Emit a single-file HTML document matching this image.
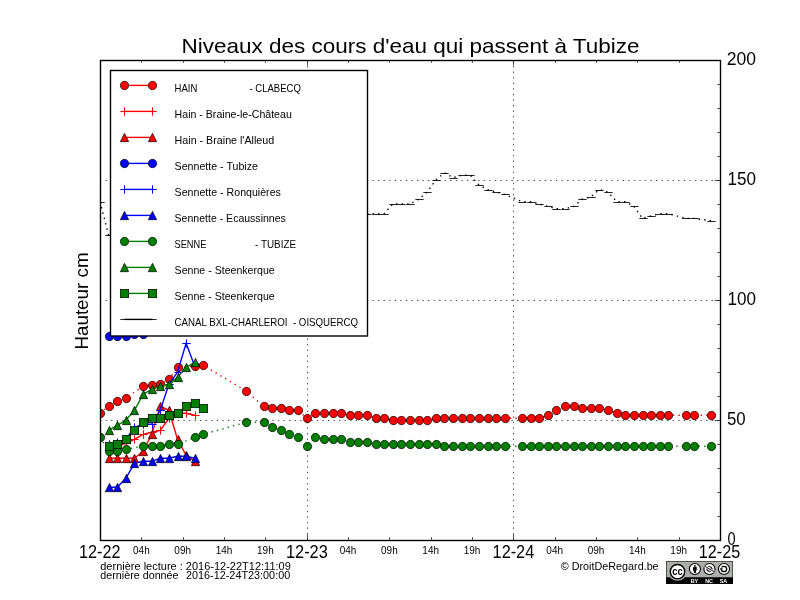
<!DOCTYPE html>
<html><head><meta charset="utf-8"><title>Niveaux des cours d'eau qui passent à Tubize</title>
<style>html,body{margin:0;padding:0;background:#fff;overflow:hidden}svg{display:block;will-change:transform}text{font-family:"Liberation Sans",sans-serif;white-space:pre}</style></head><body>
<svg width="800" height="600" viewBox="0 0 800 600">
<rect width="800" height="600" fill="#fff"/>
<defs><clipPath id="ax"><rect x="100" y="60" width="620" height="480"/></clipPath></defs>
<g clip-path="url(#ax)">
<path d="M100.00 413.30 L108.61 406.30 L117.22 401.30 L125.83 398.30 L143.06 386.30 L151.67 385.30 L160.28 384.30 L168.89 379.30 L177.50 367.30 L194.72 366.30 L203.33 365.30 L246.39 391.30 L263.61 406.30 L272.22 408.30 L280.83 408.30 L289.44 410.30 L298.06 410.30 L306.67 418.30 L315.28 413.30 L323.89 413.30 L332.50 413.30 L341.11 413.30 L349.72 415.30 L358.33 415.30 L366.94 415.30 L375.56 418.30 L384.17 418.30 L392.78 420.30 L401.39 420.30 L410.00 420.30 L418.61 420.30 L427.22 420.30 L435.83 418.30 L444.44 418.30 L453.06 418.30 L461.67 418.30 L470.28 418.30 L478.89 418.30 L487.50 418.30 L496.11 418.30 L504.72 418.30 L521.94 418.30 L530.56 418.30 L539.17 418.30 L547.78 415.30 L556.39 410.30 L565.00 406.30 L573.61 406.30 L582.22 408.30 L590.83 408.30 L599.44 408.30 L608.06 410.30 L616.67 413.30 L625.28 415.30 L633.89 415.30 L642.50 415.30 L651.11 415.30 L659.72 415.30 L668.33 415.30 L685.56 415.30 L694.17 415.30 L711.39 415.30" fill="none" stroke="#ff0000" stroke-width="1.39" stroke-dasharray="1.39 4.17"/>
<circle cx="100.50" cy="413.50" r="4.17" fill="#ff0000" stroke="#000" stroke-width="0.69"/>
<circle cx="109.50" cy="406.50" r="4.17" fill="#ff0000" stroke="#000" stroke-width="0.69"/>
<circle cx="117.50" cy="401.50" r="4.17" fill="#ff0000" stroke="#000" stroke-width="0.69"/>
<circle cx="126.50" cy="398.50" r="4.17" fill="#ff0000" stroke="#000" stroke-width="0.69"/>
<circle cx="143.50" cy="386.50" r="4.17" fill="#ff0000" stroke="#000" stroke-width="0.69"/>
<circle cx="152.50" cy="385.50" r="4.17" fill="#ff0000" stroke="#000" stroke-width="0.69"/>
<circle cx="160.50" cy="384.50" r="4.17" fill="#ff0000" stroke="#000" stroke-width="0.69"/>
<circle cx="169.50" cy="379.50" r="4.17" fill="#ff0000" stroke="#000" stroke-width="0.69"/>
<circle cx="178.50" cy="367.50" r="4.17" fill="#ff0000" stroke="#000" stroke-width="0.69"/>
<circle cx="195.50" cy="366.50" r="4.17" fill="#ff0000" stroke="#000" stroke-width="0.69"/>
<circle cx="203.50" cy="365.50" r="4.17" fill="#ff0000" stroke="#000" stroke-width="0.69"/>
<circle cx="246.50" cy="391.50" r="4.17" fill="#ff0000" stroke="#000" stroke-width="0.69"/>
<circle cx="264.50" cy="406.50" r="4.17" fill="#ff0000" stroke="#000" stroke-width="0.69"/>
<circle cx="272.50" cy="408.50" r="4.17" fill="#ff0000" stroke="#000" stroke-width="0.69"/>
<circle cx="281.50" cy="408.50" r="4.17" fill="#ff0000" stroke="#000" stroke-width="0.69"/>
<circle cx="289.50" cy="410.50" r="4.17" fill="#ff0000" stroke="#000" stroke-width="0.69"/>
<circle cx="298.50" cy="410.50" r="4.17" fill="#ff0000" stroke="#000" stroke-width="0.69"/>
<circle cx="307.50" cy="418.50" r="4.17" fill="#ff0000" stroke="#000" stroke-width="0.69"/>
<circle cx="315.50" cy="413.50" r="4.17" fill="#ff0000" stroke="#000" stroke-width="0.69"/>
<circle cx="324.50" cy="413.50" r="4.17" fill="#ff0000" stroke="#000" stroke-width="0.69"/>
<circle cx="333.50" cy="413.50" r="4.17" fill="#ff0000" stroke="#000" stroke-width="0.69"/>
<circle cx="341.50" cy="413.50" r="4.17" fill="#ff0000" stroke="#000" stroke-width="0.69"/>
<circle cx="350.50" cy="415.50" r="4.17" fill="#ff0000" stroke="#000" stroke-width="0.69"/>
<circle cx="358.50" cy="415.50" r="4.17" fill="#ff0000" stroke="#000" stroke-width="0.69"/>
<circle cx="367.50" cy="415.50" r="4.17" fill="#ff0000" stroke="#000" stroke-width="0.69"/>
<circle cx="376.50" cy="418.50" r="4.17" fill="#ff0000" stroke="#000" stroke-width="0.69"/>
<circle cx="384.50" cy="418.50" r="4.17" fill="#ff0000" stroke="#000" stroke-width="0.69"/>
<circle cx="393.50" cy="420.50" r="4.17" fill="#ff0000" stroke="#000" stroke-width="0.69"/>
<circle cx="401.50" cy="420.50" r="4.17" fill="#ff0000" stroke="#000" stroke-width="0.69"/>
<circle cx="410.50" cy="420.50" r="4.17" fill="#ff0000" stroke="#000" stroke-width="0.69"/>
<circle cx="419.50" cy="420.50" r="4.17" fill="#ff0000" stroke="#000" stroke-width="0.69"/>
<circle cx="427.50" cy="420.50" r="4.17" fill="#ff0000" stroke="#000" stroke-width="0.69"/>
<circle cx="436.50" cy="418.50" r="4.17" fill="#ff0000" stroke="#000" stroke-width="0.69"/>
<circle cx="444.50" cy="418.50" r="4.17" fill="#ff0000" stroke="#000" stroke-width="0.69"/>
<circle cx="453.50" cy="418.50" r="4.17" fill="#ff0000" stroke="#000" stroke-width="0.69"/>
<circle cx="462.50" cy="418.50" r="4.17" fill="#ff0000" stroke="#000" stroke-width="0.69"/>
<circle cx="470.50" cy="418.50" r="4.17" fill="#ff0000" stroke="#000" stroke-width="0.69"/>
<circle cx="479.50" cy="418.50" r="4.17" fill="#ff0000" stroke="#000" stroke-width="0.69"/>
<circle cx="488.50" cy="418.50" r="4.17" fill="#ff0000" stroke="#000" stroke-width="0.69"/>
<circle cx="496.50" cy="418.50" r="4.17" fill="#ff0000" stroke="#000" stroke-width="0.69"/>
<circle cx="505.50" cy="418.50" r="4.17" fill="#ff0000" stroke="#000" stroke-width="0.69"/>
<circle cx="522.50" cy="418.50" r="4.17" fill="#ff0000" stroke="#000" stroke-width="0.69"/>
<circle cx="531.50" cy="418.50" r="4.17" fill="#ff0000" stroke="#000" stroke-width="0.69"/>
<circle cx="539.50" cy="418.50" r="4.17" fill="#ff0000" stroke="#000" stroke-width="0.69"/>
<circle cx="548.50" cy="415.50" r="4.17" fill="#ff0000" stroke="#000" stroke-width="0.69"/>
<circle cx="556.50" cy="410.50" r="4.17" fill="#ff0000" stroke="#000" stroke-width="0.69"/>
<circle cx="565.50" cy="406.50" r="4.17" fill="#ff0000" stroke="#000" stroke-width="0.69"/>
<circle cx="574.50" cy="406.50" r="4.17" fill="#ff0000" stroke="#000" stroke-width="0.69"/>
<circle cx="582.50" cy="408.50" r="4.17" fill="#ff0000" stroke="#000" stroke-width="0.69"/>
<circle cx="591.50" cy="408.50" r="4.17" fill="#ff0000" stroke="#000" stroke-width="0.69"/>
<circle cx="599.50" cy="408.50" r="4.17" fill="#ff0000" stroke="#000" stroke-width="0.69"/>
<circle cx="608.50" cy="410.50" r="4.17" fill="#ff0000" stroke="#000" stroke-width="0.69"/>
<circle cx="617.50" cy="413.50" r="4.17" fill="#ff0000" stroke="#000" stroke-width="0.69"/>
<circle cx="625.50" cy="415.50" r="4.17" fill="#ff0000" stroke="#000" stroke-width="0.69"/>
<circle cx="634.50" cy="415.50" r="4.17" fill="#ff0000" stroke="#000" stroke-width="0.69"/>
<circle cx="643.50" cy="415.50" r="4.17" fill="#ff0000" stroke="#000" stroke-width="0.69"/>
<circle cx="651.50" cy="415.50" r="4.17" fill="#ff0000" stroke="#000" stroke-width="0.69"/>
<circle cx="660.50" cy="415.50" r="4.17" fill="#ff0000" stroke="#000" stroke-width="0.69"/>
<circle cx="668.50" cy="415.50" r="4.17" fill="#ff0000" stroke="#000" stroke-width="0.69"/>
<circle cx="686.50" cy="415.50" r="4.17" fill="#ff0000" stroke="#000" stroke-width="0.69"/>
<circle cx="694.50" cy="415.50" r="4.17" fill="#ff0000" stroke="#000" stroke-width="0.69"/>
<circle cx="711.50" cy="415.50" r="4.17" fill="#ff0000" stroke="#000" stroke-width="0.69"/>
<path d="M108.61 446.30 L117.22 446.30 L125.83 443.30 L134.44 439.30 L143.06 434.30 L151.67 432.30 L160.28 430.30 L168.89 418.30 L177.50 413.30 L186.11 413.30 L194.72 415.30" fill="none" stroke="#ff0000" stroke-width="1.39"/>
<path d="M105.33 446.50H113.67M109.50 442.33V450.67" stroke="#ff0000" stroke-width="1.00" fill="none"/>
<path d="M113.33 446.50H121.67M117.50 442.33V450.67" stroke="#ff0000" stroke-width="1.00" fill="none"/>
<path d="M122.33 443.50H130.67M126.50 439.33V447.67" stroke="#ff0000" stroke-width="1.00" fill="none"/>
<path d="M130.33 439.50H138.67M134.50 435.33V443.67" stroke="#ff0000" stroke-width="1.00" fill="none"/>
<path d="M139.33 434.50H147.67M143.50 430.33V438.67" stroke="#ff0000" stroke-width="1.00" fill="none"/>
<path d="M148.33 432.50H156.67M152.50 428.33V436.67" stroke="#ff0000" stroke-width="1.00" fill="none"/>
<path d="M156.33 430.50H164.67M160.50 426.33V434.67" stroke="#ff0000" stroke-width="1.00" fill="none"/>
<path d="M165.33 418.50H173.67M169.50 414.33V422.67" stroke="#ff0000" stroke-width="1.00" fill="none"/>
<path d="M174.33 413.50H182.67M178.50 409.33V417.67" stroke="#ff0000" stroke-width="1.00" fill="none"/>
<path d="M182.33 413.50H190.67M186.50 409.33V417.67" stroke="#ff0000" stroke-width="1.00" fill="none"/>
<path d="M191.33 415.50H199.67M195.50 411.33V419.67" stroke="#ff0000" stroke-width="1.00" fill="none"/>
<path d="M108.61 458.30 L117.22 458.30 L125.83 458.30 L134.44 458.30 L143.06 451.30 L151.67 434.30 L160.28 406.30 L168.89 410.30 L177.50 439.30 L186.11 455.30 L194.72 461.30" fill="none" stroke="#ff0000" stroke-width="1.39"/>
<path d="M109.50 454.33L105.33 462.67L113.67 462.67Z" fill="#ff0000" stroke="#000" stroke-width="0.69" stroke-linejoin="miter"/>
<path d="M117.50 454.33L113.33 462.67L121.67 462.67Z" fill="#ff0000" stroke="#000" stroke-width="0.69" stroke-linejoin="miter"/>
<path d="M126.50 454.33L122.33 462.67L130.67 462.67Z" fill="#ff0000" stroke="#000" stroke-width="0.69" stroke-linejoin="miter"/>
<path d="M134.50 454.33L130.33 462.67L138.67 462.67Z" fill="#ff0000" stroke="#000" stroke-width="0.69" stroke-linejoin="miter"/>
<path d="M143.50 447.33L139.33 455.67L147.67 455.67Z" fill="#ff0000" stroke="#000" stroke-width="0.69" stroke-linejoin="miter"/>
<path d="M152.50 430.33L148.33 438.67L156.67 438.67Z" fill="#ff0000" stroke="#000" stroke-width="0.69" stroke-linejoin="miter"/>
<path d="M160.50 402.33L156.33 410.67L164.67 410.67Z" fill="#ff0000" stroke="#000" stroke-width="0.69" stroke-linejoin="miter"/>
<path d="M169.50 406.33L165.33 414.67L173.67 414.67Z" fill="#ff0000" stroke="#000" stroke-width="0.69" stroke-linejoin="miter"/>
<path d="M178.50 435.33L174.33 443.67L182.67 443.67Z" fill="#ff0000" stroke="#000" stroke-width="0.69" stroke-linejoin="miter"/>
<path d="M186.50 451.33L182.33 459.67L190.67 459.67Z" fill="#ff0000" stroke="#000" stroke-width="0.69" stroke-linejoin="miter"/>
<path d="M195.50 457.33L191.33 465.67L199.67 465.67Z" fill="#ff0000" stroke="#000" stroke-width="0.69" stroke-linejoin="miter"/>
<path d="M108.61 336.30 L117.22 336.30 L125.83 336.30 L134.44 334.30 L143.06 334.30" fill="none" stroke="#0000ff" stroke-width="1.39" stroke-dasharray="1.39 4.17"/>
<circle cx="109.50" cy="336.50" r="4.17" fill="#0000ff" stroke="#000" stroke-width="0.69"/>
<circle cx="117.50" cy="336.50" r="4.17" fill="#0000ff" stroke="#000" stroke-width="0.69"/>
<circle cx="126.50" cy="336.50" r="4.17" fill="#0000ff" stroke="#000" stroke-width="0.69"/>
<circle cx="134.50" cy="334.50" r="4.17" fill="#0000ff" stroke="#000" stroke-width="0.69"/>
<circle cx="143.50" cy="334.50" r="4.17" fill="#0000ff" stroke="#000" stroke-width="0.69"/>
<path d="M108.61 444.30 L117.22 442.30 L125.83 439.30 L134.44 427.30 L143.06 424.30 L151.67 424.30 L160.28 410.30 L168.89 384.30 L177.50 372.30 L186.11 343.30 L194.72 366.30" fill="none" stroke="#0000ff" stroke-width="1.39"/>
<path d="M105.33 444.50H113.67M109.50 440.33V448.67" stroke="#0000ff" stroke-width="1.00" fill="none"/>
<path d="M113.33 442.50H121.67M117.50 438.33V446.67" stroke="#0000ff" stroke-width="1.00" fill="none"/>
<path d="M122.33 439.50H130.67M126.50 435.33V443.67" stroke="#0000ff" stroke-width="1.00" fill="none"/>
<path d="M130.33 427.50H138.67M134.50 423.33V431.67" stroke="#0000ff" stroke-width="1.00" fill="none"/>
<path d="M139.33 424.50H147.67M143.50 420.33V428.67" stroke="#0000ff" stroke-width="1.00" fill="none"/>
<path d="M148.33 424.50H156.67M152.50 420.33V428.67" stroke="#0000ff" stroke-width="1.00" fill="none"/>
<path d="M156.33 410.50H164.67M160.50 406.33V414.67" stroke="#0000ff" stroke-width="1.00" fill="none"/>
<path d="M165.33 384.50H173.67M169.50 380.33V388.67" stroke="#0000ff" stroke-width="1.00" fill="none"/>
<path d="M174.33 372.50H182.67M178.50 368.33V376.67" stroke="#0000ff" stroke-width="1.00" fill="none"/>
<path d="M182.33 343.50H190.67M186.50 339.33V347.67" stroke="#0000ff" stroke-width="1.00" fill="none"/>
<path d="M191.33 366.50H199.67M195.50 362.33V370.67" stroke="#0000ff" stroke-width="1.00" fill="none"/>
<path d="M108.61 487.30 L117.22 487.30 L125.83 478.30 L134.44 463.30 L143.06 461.30 L151.67 461.30 L160.28 458.30 L168.89 458.30 L177.50 456.30 L186.11 456.30 L194.72 458.30" fill="none" stroke="#0000ff" stroke-width="1.39"/>
<path d="M109.50 483.33L105.33 491.67L113.67 491.67Z" fill="#0000ff" stroke="#000" stroke-width="0.69" stroke-linejoin="miter"/>
<path d="M117.50 483.33L113.33 491.67L121.67 491.67Z" fill="#0000ff" stroke="#000" stroke-width="0.69" stroke-linejoin="miter"/>
<path d="M126.50 474.33L122.33 482.67L130.67 482.67Z" fill="#0000ff" stroke="#000" stroke-width="0.69" stroke-linejoin="miter"/>
<path d="M134.50 459.33L130.33 467.67L138.67 467.67Z" fill="#0000ff" stroke="#000" stroke-width="0.69" stroke-linejoin="miter"/>
<path d="M143.50 457.33L139.33 465.67L147.67 465.67Z" fill="#0000ff" stroke="#000" stroke-width="0.69" stroke-linejoin="miter"/>
<path d="M152.50 457.33L148.33 465.67L156.67 465.67Z" fill="#0000ff" stroke="#000" stroke-width="0.69" stroke-linejoin="miter"/>
<path d="M160.50 454.33L156.33 462.67L164.67 462.67Z" fill="#0000ff" stroke="#000" stroke-width="0.69" stroke-linejoin="miter"/>
<path d="M169.50 454.33L165.33 462.67L173.67 462.67Z" fill="#0000ff" stroke="#000" stroke-width="0.69" stroke-linejoin="miter"/>
<path d="M178.50 452.33L174.33 460.67L182.67 460.67Z" fill="#0000ff" stroke="#000" stroke-width="0.69" stroke-linejoin="miter"/>
<path d="M186.50 452.33L182.33 460.67L190.67 460.67Z" fill="#0000ff" stroke="#000" stroke-width="0.69" stroke-linejoin="miter"/>
<path d="M195.50 454.33L191.33 462.67L199.67 462.67Z" fill="#0000ff" stroke="#000" stroke-width="0.69" stroke-linejoin="miter"/>
<path d="M100.00 437.30 L108.61 451.30 L117.22 451.30 L125.83 449.30 L143.06 446.30 L151.67 446.30 L160.28 446.30 L168.89 444.30 L177.50 444.30 L194.72 437.30 L203.33 434.30 L246.39 422.30 L263.61 422.30 L272.22 427.30 L280.83 430.30 L289.44 434.30 L298.06 437.30 L306.67 446.30 L315.28 437.30 L323.89 439.30 L332.50 439.30 L341.11 439.30 L349.72 442.30 L358.33 442.30 L366.94 442.30 L375.56 444.30 L384.17 444.30 L392.78 444.30 L401.39 444.30 L410.00 444.30 L418.61 444.30 L427.22 444.30 L435.83 444.30 L444.44 446.30 L453.06 446.30 L461.67 446.30 L470.28 446.30 L478.89 446.30 L487.50 446.30 L496.11 446.30 L504.72 446.30 L521.94 446.30 L530.56 446.30 L539.17 446.30 L547.78 446.30 L556.39 446.30 L565.00 446.30 L573.61 446.30 L582.22 446.30 L590.83 446.30 L599.44 446.30 L608.06 446.30 L616.67 446.30 L625.28 446.30 L633.89 446.30 L642.50 446.30 L651.11 446.30 L659.72 446.30 L668.33 446.30 L685.56 446.30 L694.17 446.30 L711.39 446.30" fill="none" stroke="#008000" stroke-width="1.39" stroke-dasharray="1.39 4.17"/>
<circle cx="100.50" cy="437.50" r="4.17" fill="#008000" stroke="#000" stroke-width="0.69"/>
<circle cx="109.50" cy="451.50" r="4.17" fill="#008000" stroke="#000" stroke-width="0.69"/>
<circle cx="117.50" cy="451.50" r="4.17" fill="#008000" stroke="#000" stroke-width="0.69"/>
<circle cx="126.50" cy="449.50" r="4.17" fill="#008000" stroke="#000" stroke-width="0.69"/>
<circle cx="143.50" cy="446.50" r="4.17" fill="#008000" stroke="#000" stroke-width="0.69"/>
<circle cx="152.50" cy="446.50" r="4.17" fill="#008000" stroke="#000" stroke-width="0.69"/>
<circle cx="160.50" cy="446.50" r="4.17" fill="#008000" stroke="#000" stroke-width="0.69"/>
<circle cx="169.50" cy="444.50" r="4.17" fill="#008000" stroke="#000" stroke-width="0.69"/>
<circle cx="178.50" cy="444.50" r="4.17" fill="#008000" stroke="#000" stroke-width="0.69"/>
<circle cx="195.50" cy="437.50" r="4.17" fill="#008000" stroke="#000" stroke-width="0.69"/>
<circle cx="203.50" cy="434.50" r="4.17" fill="#008000" stroke="#000" stroke-width="0.69"/>
<circle cx="246.50" cy="422.50" r="4.17" fill="#008000" stroke="#000" stroke-width="0.69"/>
<circle cx="264.50" cy="422.50" r="4.17" fill="#008000" stroke="#000" stroke-width="0.69"/>
<circle cx="272.50" cy="427.50" r="4.17" fill="#008000" stroke="#000" stroke-width="0.69"/>
<circle cx="281.50" cy="430.50" r="4.17" fill="#008000" stroke="#000" stroke-width="0.69"/>
<circle cx="289.50" cy="434.50" r="4.17" fill="#008000" stroke="#000" stroke-width="0.69"/>
<circle cx="298.50" cy="437.50" r="4.17" fill="#008000" stroke="#000" stroke-width="0.69"/>
<circle cx="307.50" cy="446.50" r="4.17" fill="#008000" stroke="#000" stroke-width="0.69"/>
<circle cx="315.50" cy="437.50" r="4.17" fill="#008000" stroke="#000" stroke-width="0.69"/>
<circle cx="324.50" cy="439.50" r="4.17" fill="#008000" stroke="#000" stroke-width="0.69"/>
<circle cx="333.50" cy="439.50" r="4.17" fill="#008000" stroke="#000" stroke-width="0.69"/>
<circle cx="341.50" cy="439.50" r="4.17" fill="#008000" stroke="#000" stroke-width="0.69"/>
<circle cx="350.50" cy="442.50" r="4.17" fill="#008000" stroke="#000" stroke-width="0.69"/>
<circle cx="358.50" cy="442.50" r="4.17" fill="#008000" stroke="#000" stroke-width="0.69"/>
<circle cx="367.50" cy="442.50" r="4.17" fill="#008000" stroke="#000" stroke-width="0.69"/>
<circle cx="376.50" cy="444.50" r="4.17" fill="#008000" stroke="#000" stroke-width="0.69"/>
<circle cx="384.50" cy="444.50" r="4.17" fill="#008000" stroke="#000" stroke-width="0.69"/>
<circle cx="393.50" cy="444.50" r="4.17" fill="#008000" stroke="#000" stroke-width="0.69"/>
<circle cx="401.50" cy="444.50" r="4.17" fill="#008000" stroke="#000" stroke-width="0.69"/>
<circle cx="410.50" cy="444.50" r="4.17" fill="#008000" stroke="#000" stroke-width="0.69"/>
<circle cx="419.50" cy="444.50" r="4.17" fill="#008000" stroke="#000" stroke-width="0.69"/>
<circle cx="427.50" cy="444.50" r="4.17" fill="#008000" stroke="#000" stroke-width="0.69"/>
<circle cx="436.50" cy="444.50" r="4.17" fill="#008000" stroke="#000" stroke-width="0.69"/>
<circle cx="444.50" cy="446.50" r="4.17" fill="#008000" stroke="#000" stroke-width="0.69"/>
<circle cx="453.50" cy="446.50" r="4.17" fill="#008000" stroke="#000" stroke-width="0.69"/>
<circle cx="462.50" cy="446.50" r="4.17" fill="#008000" stroke="#000" stroke-width="0.69"/>
<circle cx="470.50" cy="446.50" r="4.17" fill="#008000" stroke="#000" stroke-width="0.69"/>
<circle cx="479.50" cy="446.50" r="4.17" fill="#008000" stroke="#000" stroke-width="0.69"/>
<circle cx="488.50" cy="446.50" r="4.17" fill="#008000" stroke="#000" stroke-width="0.69"/>
<circle cx="496.50" cy="446.50" r="4.17" fill="#008000" stroke="#000" stroke-width="0.69"/>
<circle cx="505.50" cy="446.50" r="4.17" fill="#008000" stroke="#000" stroke-width="0.69"/>
<circle cx="522.50" cy="446.50" r="4.17" fill="#008000" stroke="#000" stroke-width="0.69"/>
<circle cx="531.50" cy="446.50" r="4.17" fill="#008000" stroke="#000" stroke-width="0.69"/>
<circle cx="539.50" cy="446.50" r="4.17" fill="#008000" stroke="#000" stroke-width="0.69"/>
<circle cx="548.50" cy="446.50" r="4.17" fill="#008000" stroke="#000" stroke-width="0.69"/>
<circle cx="556.50" cy="446.50" r="4.17" fill="#008000" stroke="#000" stroke-width="0.69"/>
<circle cx="565.50" cy="446.50" r="4.17" fill="#008000" stroke="#000" stroke-width="0.69"/>
<circle cx="574.50" cy="446.50" r="4.17" fill="#008000" stroke="#000" stroke-width="0.69"/>
<circle cx="582.50" cy="446.50" r="4.17" fill="#008000" stroke="#000" stroke-width="0.69"/>
<circle cx="591.50" cy="446.50" r="4.17" fill="#008000" stroke="#000" stroke-width="0.69"/>
<circle cx="599.50" cy="446.50" r="4.17" fill="#008000" stroke="#000" stroke-width="0.69"/>
<circle cx="608.50" cy="446.50" r="4.17" fill="#008000" stroke="#000" stroke-width="0.69"/>
<circle cx="617.50" cy="446.50" r="4.17" fill="#008000" stroke="#000" stroke-width="0.69"/>
<circle cx="625.50" cy="446.50" r="4.17" fill="#008000" stroke="#000" stroke-width="0.69"/>
<circle cx="634.50" cy="446.50" r="4.17" fill="#008000" stroke="#000" stroke-width="0.69"/>
<circle cx="643.50" cy="446.50" r="4.17" fill="#008000" stroke="#000" stroke-width="0.69"/>
<circle cx="651.50" cy="446.50" r="4.17" fill="#008000" stroke="#000" stroke-width="0.69"/>
<circle cx="660.50" cy="446.50" r="4.17" fill="#008000" stroke="#000" stroke-width="0.69"/>
<circle cx="668.50" cy="446.50" r="4.17" fill="#008000" stroke="#000" stroke-width="0.69"/>
<circle cx="686.50" cy="446.50" r="4.17" fill="#008000" stroke="#000" stroke-width="0.69"/>
<circle cx="694.50" cy="446.50" r="4.17" fill="#008000" stroke="#000" stroke-width="0.69"/>
<circle cx="711.50" cy="446.50" r="4.17" fill="#008000" stroke="#000" stroke-width="0.69"/>
<path d="M108.61 430.30 L117.22 425.30 L125.83 420.30 L134.44 410.30 L143.06 394.30 L151.67 389.30 L160.28 386.30 L168.89 384.30 L177.50 377.30 L186.11 367.30 L194.72 362.30" fill="none" stroke="#008000" stroke-width="1.39"/>
<path d="M109.50 426.33L105.33 434.67L113.67 434.67Z" fill="#008000" stroke="#000" stroke-width="0.69" stroke-linejoin="miter"/>
<path d="M117.50 421.33L113.33 429.67L121.67 429.67Z" fill="#008000" stroke="#000" stroke-width="0.69" stroke-linejoin="miter"/>
<path d="M126.50 416.33L122.33 424.67L130.67 424.67Z" fill="#008000" stroke="#000" stroke-width="0.69" stroke-linejoin="miter"/>
<path d="M134.50 406.33L130.33 414.67L138.67 414.67Z" fill="#008000" stroke="#000" stroke-width="0.69" stroke-linejoin="miter"/>
<path d="M143.50 390.33L139.33 398.67L147.67 398.67Z" fill="#008000" stroke="#000" stroke-width="0.69" stroke-linejoin="miter"/>
<path d="M152.50 385.33L148.33 393.67L156.67 393.67Z" fill="#008000" stroke="#000" stroke-width="0.69" stroke-linejoin="miter"/>
<path d="M160.50 382.33L156.33 390.67L164.67 390.67Z" fill="#008000" stroke="#000" stroke-width="0.69" stroke-linejoin="miter"/>
<path d="M169.50 380.33L165.33 388.67L173.67 388.67Z" fill="#008000" stroke="#000" stroke-width="0.69" stroke-linejoin="miter"/>
<path d="M178.50 373.33L174.33 381.67L182.67 381.67Z" fill="#008000" stroke="#000" stroke-width="0.69" stroke-linejoin="miter"/>
<path d="M186.50 363.33L182.33 371.67L190.67 371.67Z" fill="#008000" stroke="#000" stroke-width="0.69" stroke-linejoin="miter"/>
<path d="M195.50 358.33L191.33 366.67L199.67 366.67Z" fill="#008000" stroke="#000" stroke-width="0.69" stroke-linejoin="miter"/>
<path d="M108.61 446.30 L117.22 444.30 L125.83 439.30 L134.44 430.30 L143.06 422.30 L151.67 418.30 L160.28 418.30 L168.89 415.30 L177.50 413.30 L186.11 406.30 L194.72 403.30 L203.33 408.30" fill="none" stroke="#008000" stroke-width="1.39"/>
<rect x="105.33" y="442.33" width="8.34" height="8.34" fill="#008000" stroke="#000" stroke-width="0.69"/>
<rect x="113.33" y="440.33" width="8.34" height="8.34" fill="#008000" stroke="#000" stroke-width="0.69"/>
<rect x="122.33" y="435.33" width="8.34" height="8.34" fill="#008000" stroke="#000" stroke-width="0.69"/>
<rect x="130.33" y="426.33" width="8.34" height="8.34" fill="#008000" stroke="#000" stroke-width="0.69"/>
<rect x="139.33" y="418.33" width="8.34" height="8.34" fill="#008000" stroke="#000" stroke-width="0.69"/>
<rect x="148.33" y="414.33" width="8.34" height="8.34" fill="#008000" stroke="#000" stroke-width="0.69"/>
<rect x="156.33" y="414.33" width="8.34" height="8.34" fill="#008000" stroke="#000" stroke-width="0.69"/>
<rect x="165.33" y="411.33" width="8.34" height="8.34" fill="#008000" stroke="#000" stroke-width="0.69"/>
<rect x="174.33" y="409.33" width="8.34" height="8.34" fill="#008000" stroke="#000" stroke-width="0.69"/>
<rect x="182.33" y="402.33" width="8.34" height="8.34" fill="#008000" stroke="#000" stroke-width="0.69"/>
<rect x="191.33" y="399.33" width="8.34" height="8.34" fill="#008000" stroke="#000" stroke-width="0.69"/>
<rect x="199.33" y="404.33" width="8.34" height="8.34" fill="#008000" stroke="#000" stroke-width="0.69"/>
<path d="M100.00 201.60 L108.61 235.20 L117.22 235.20" fill="none" stroke="#000" stroke-width="1.39" stroke-dasharray="1.39 4.17"/>
<path d="M366.94 213.60 L375.56 213.60 L384.17 213.60 L392.78 204.00 L401.39 204.00 L410.00 204.00 L418.61 199.20 L427.22 192.00 L435.83 180.00 L444.44 172.80 L453.06 177.60 L461.67 175.20 L470.28 175.20 L478.89 184.80 L487.50 189.60 L496.11 192.00 L504.72 194.40 L521.94 201.60 L530.56 201.60 L539.17 204.00 L547.78 206.40 L556.39 208.80 L565.00 208.80 L573.61 206.40 L582.22 199.20 L590.83 196.80 L599.44 189.60 L608.06 192.00 L616.67 201.60 L625.28 201.60 L633.89 206.40 L642.50 218.40 L651.11 216.00 L659.72 213.60 L668.33 213.60 L685.56 218.40 L694.17 218.40 L711.39 220.80" fill="none" stroke="#000" stroke-width="1.39" stroke-dasharray="1.39 4.17"/>
<path d="M96.33 202.50H104.67" stroke="#000" stroke-width="1" stroke-opacity="0.85" fill="none"/>
<path d="M105.33 235.50H113.67" stroke="#000" stroke-width="1" stroke-opacity="0.85" fill="none"/>
<path d="M113.33 235.50H121.67" stroke="#000" stroke-width="1" stroke-opacity="0.85" fill="none"/>
<path d="M363.33 214.50H371.67" stroke="#000" stroke-width="1" stroke-opacity="0.85" fill="none"/>
<path d="M372.33 214.50H380.67" stroke="#000" stroke-width="1" stroke-opacity="0.85" fill="none"/>
<path d="M380.33 214.50H388.67" stroke="#000" stroke-width="1" stroke-opacity="0.85" fill="none"/>
<path d="M389.33 204.50H397.67" stroke="#000" stroke-width="1" stroke-opacity="0.85" fill="none"/>
<path d="M397.33 204.50H405.67" stroke="#000" stroke-width="1" stroke-opacity="0.85" fill="none"/>
<path d="M406.33 204.50H414.67" stroke="#000" stroke-width="1" stroke-opacity="0.85" fill="none"/>
<path d="M415.33 199.50H423.67" stroke="#000" stroke-width="1" stroke-opacity="0.85" fill="none"/>
<path d="M423.33 192.50H431.67" stroke="#000" stroke-width="1" stroke-opacity="0.85" fill="none"/>
<path d="M432.33 180.50H440.67" stroke="#000" stroke-width="1" stroke-opacity="0.85" fill="none"/>
<path d="M440.33 173.50H448.67" stroke="#000" stroke-width="1" stroke-opacity="0.85" fill="none"/>
<path d="M449.33 178.50H457.67" stroke="#000" stroke-width="1" stroke-opacity="0.85" fill="none"/>
<path d="M458.33 175.50H466.67" stroke="#000" stroke-width="1" stroke-opacity="0.85" fill="none"/>
<path d="M466.33 175.50H474.67" stroke="#000" stroke-width="1" stroke-opacity="0.85" fill="none"/>
<path d="M475.33 185.50H483.67" stroke="#000" stroke-width="1" stroke-opacity="0.85" fill="none"/>
<path d="M484.33 190.50H492.67" stroke="#000" stroke-width="1" stroke-opacity="0.85" fill="none"/>
<path d="M492.33 192.50H500.67" stroke="#000" stroke-width="1" stroke-opacity="0.85" fill="none"/>
<path d="M501.33 194.50H509.67" stroke="#000" stroke-width="1" stroke-opacity="0.85" fill="none"/>
<path d="M518.33 202.50H526.67" stroke="#000" stroke-width="1" stroke-opacity="0.85" fill="none"/>
<path d="M527.33 202.50H535.67" stroke="#000" stroke-width="1" stroke-opacity="0.85" fill="none"/>
<path d="M535.33 204.50H543.67" stroke="#000" stroke-width="1" stroke-opacity="0.85" fill="none"/>
<path d="M544.33 206.50H552.67" stroke="#000" stroke-width="1" stroke-opacity="0.85" fill="none"/>
<path d="M552.33 209.50H560.67" stroke="#000" stroke-width="1" stroke-opacity="0.85" fill="none"/>
<path d="M561.33 209.50H569.67" stroke="#000" stroke-width="1" stroke-opacity="0.85" fill="none"/>
<path d="M570.33 206.50H578.67" stroke="#000" stroke-width="1" stroke-opacity="0.85" fill="none"/>
<path d="M578.33 199.50H586.67" stroke="#000" stroke-width="1" stroke-opacity="0.85" fill="none"/>
<path d="M587.33 197.50H595.67" stroke="#000" stroke-width="1" stroke-opacity="0.85" fill="none"/>
<path d="M595.33 190.50H603.67" stroke="#000" stroke-width="1" stroke-opacity="0.85" fill="none"/>
<path d="M604.33 192.50H612.67" stroke="#000" stroke-width="1" stroke-opacity="0.85" fill="none"/>
<path d="M613.33 202.50H621.67" stroke="#000" stroke-width="1" stroke-opacity="0.85" fill="none"/>
<path d="M621.33 202.50H629.67" stroke="#000" stroke-width="1" stroke-opacity="0.85" fill="none"/>
<path d="M630.33 206.50H638.67" stroke="#000" stroke-width="1" stroke-opacity="0.85" fill="none"/>
<path d="M639.33 218.50H647.67" stroke="#000" stroke-width="1" stroke-opacity="0.85" fill="none"/>
<path d="M647.33 216.50H655.67" stroke="#000" stroke-width="1" stroke-opacity="0.85" fill="none"/>
<path d="M656.33 214.50H664.67" stroke="#000" stroke-width="1" stroke-opacity="0.85" fill="none"/>
<path d="M664.33 214.50H672.67" stroke="#000" stroke-width="1" stroke-opacity="0.85" fill="none"/>
<path d="M682.33 218.50H690.67" stroke="#000" stroke-width="1" stroke-opacity="0.85" fill="none"/>
<path d="M690.33 218.50H698.67" stroke="#000" stroke-width="1" stroke-opacity="0.85" fill="none"/>
<path d="M707.33 221.50H715.67" stroke="#000" stroke-width="1" stroke-opacity="0.85" fill="none"/>
</g>
<g stroke="#000" stroke-width="0.69" fill="none" stroke-dasharray="1.39 4.17">
<path d="M307.50 540V60"/>
<path d="M513.50 540V60"/>
<path d="M100 180.5H720"/>
<path d="M100 300.5H720"/>
<path d="M100 420.5H720"/>
</g>
<g stroke="#000" stroke-width="0.69" fill="none">
<path d="M141.50 540v-2.78M141.50 60v2.78"/>
<path d="M183.50 540v-2.78M183.50 60v2.78"/>
<path d="M224.50 540v-2.78M224.50 60v2.78"/>
<path d="M265.50 540v-2.78M265.50 60v2.78"/>
<path d="M307.50 540v-5.56M307.50 60v5.56"/>
<path d="M348.50 540v-2.78M348.50 60v2.78"/>
<path d="M389.50 540v-2.78M389.50 60v2.78"/>
<path d="M431.50 540v-2.78M431.50 60v2.78"/>
<path d="M472.50 540v-2.78M472.50 60v2.78"/>
<path d="M513.50 540v-5.56M513.50 60v5.56"/>
<path d="M555.50 540v-2.78M555.50 60v2.78"/>
<path d="M596.50 540v-2.78M596.50 60v2.78"/>
<path d="M637.50 540v-2.78M637.50 60v2.78"/>
<path d="M679.50 540v-2.78M679.50 60v2.78"/>
<path d="M720 516.50h-2.78"/>
<path d="M720 492.50h-2.78"/>
<path d="M720 468.50h-2.78"/>
<path d="M720 444.50h-2.78"/>
<path d="M720 420.50h-5.56"/>
<path d="M720 396.50h-2.78"/>
<path d="M720 372.50h-2.78"/>
<path d="M720 348.50h-2.78"/>
<path d="M720 324.50h-2.78"/>
<path d="M720 300.50h-5.56"/>
<path d="M720 276.50h-2.78"/>
<path d="M720 252.50h-2.78"/>
<path d="M720 228.50h-2.78"/>
<path d="M720 204.50h-2.78"/>
<path d="M720 180.50h-5.56"/>
<path d="M720 156.50h-2.78"/>
<path d="M720 132.50h-2.78"/>
<path d="M720 108.50h-2.78"/>
<path d="M720 84.50h-2.78"/>
</g>
<rect x="100.5" y="60.5" width="620" height="480" fill="none" stroke="#000" stroke-width="1.39"/>
<rect x="110.5" y="70.5" width="257" height="265.5" fill="#fff" stroke="#000" stroke-width="1.39"/>
<path d="M124.50 85.40H152.50" stroke="#ff0000" stroke-width="1.39"/>
<circle cx="124.50" cy="85.50" r="4.17" fill="#ff0000" stroke="#000" stroke-width="0.69"/>
<circle cx="152.50" cy="85.50" r="4.17" fill="#ff0000" stroke="#000" stroke-width="0.69"/>
<path d="M124.50 111.40H152.50" stroke="#ff0000" stroke-width="1.39"/>
<path d="M120.33 111.50H128.67M124.50 107.33V115.67" stroke="#ff0000" stroke-width="1.00" fill="none"/>
<path d="M148.33 111.50H156.67M152.50 107.33V115.67" stroke="#ff0000" stroke-width="1.00" fill="none"/>
<path d="M124.50 137.40H152.50" stroke="#ff0000" stroke-width="1.39"/>
<path d="M124.50 133.33L120.33 141.67L128.67 141.67Z" fill="#ff0000" stroke="#000" stroke-width="0.69" stroke-linejoin="miter"/>
<path d="M152.50 133.33L148.33 141.67L156.67 141.67Z" fill="#ff0000" stroke="#000" stroke-width="0.69" stroke-linejoin="miter"/>
<path d="M124.50 163.40H152.50" stroke="#0000ff" stroke-width="1.39"/>
<circle cx="124.50" cy="163.50" r="4.17" fill="#0000ff" stroke="#000" stroke-width="0.69"/>
<circle cx="152.50" cy="163.50" r="4.17" fill="#0000ff" stroke="#000" stroke-width="0.69"/>
<path d="M124.50 189.40H152.50" stroke="#0000ff" stroke-width="1.39"/>
<path d="M120.33 189.50H128.67M124.50 185.33V193.67" stroke="#0000ff" stroke-width="1.00" fill="none"/>
<path d="M148.33 189.50H156.67M152.50 185.33V193.67" stroke="#0000ff" stroke-width="1.00" fill="none"/>
<path d="M124.50 215.40H152.50" stroke="#0000ff" stroke-width="1.39"/>
<path d="M124.50 211.33L120.33 219.67L128.67 219.67Z" fill="#0000ff" stroke="#000" stroke-width="0.69" stroke-linejoin="miter"/>
<path d="M152.50 211.33L148.33 219.67L156.67 219.67Z" fill="#0000ff" stroke="#000" stroke-width="0.69" stroke-linejoin="miter"/>
<path d="M124.50 241.40H152.50" stroke="#008000" stroke-width="1.39"/>
<circle cx="124.50" cy="241.50" r="4.17" fill="#008000" stroke="#000" stroke-width="0.69"/>
<circle cx="152.50" cy="241.50" r="4.17" fill="#008000" stroke="#000" stroke-width="0.69"/>
<path d="M124.50 267.40H152.50" stroke="#008000" stroke-width="1.39"/>
<path d="M124.50 263.33L120.33 271.67L128.67 271.67Z" fill="#008000" stroke="#000" stroke-width="0.69" stroke-linejoin="miter"/>
<path d="M152.50 263.33L148.33 271.67L156.67 271.67Z" fill="#008000" stroke="#000" stroke-width="0.69" stroke-linejoin="miter"/>
<path d="M124.50 293.40H152.50" stroke="#008000" stroke-width="1.39"/>
<rect x="120.33" y="289.33" width="8.34" height="8.34" fill="#008000" stroke="#000" stroke-width="0.69"/>
<rect x="148.33" y="289.33" width="8.34" height="8.34" fill="#008000" stroke="#000" stroke-width="0.69"/>
<path d="M124.50 319.40H152.50" stroke="#000" stroke-width="1.39"/>
<path d="M120.33 319.50H128.67" stroke="#000" stroke-width="1" stroke-opacity="0.85" fill="none"/>
<path d="M148.33 319.50H156.67" stroke="#000" stroke-width="1" stroke-opacity="0.85" fill="none"/>
<text transform="translate(174.60,92.00) scale(0.8594,1)" font-size="11.10" fill="#000">HAIN</text>
<text transform="translate(249.40,92.00) scale(0.8625,1)" font-size="11.10" fill="#000">- CLABECQ</text>
<text transform="translate(174.60,118.00) scale(0.9555,1)" font-size="11.10" fill="#000">Hain - Braine-le-Château</text>
<text transform="translate(174.60,144.00) scale(0.9653,1)" font-size="11.10" fill="#000">Hain - Braine l'Alleud</text>
<text transform="translate(174.60,170.00) scale(0.9584,1)" font-size="11.10" fill="#000">Sennette - Tubize</text>
<text transform="translate(174.60,196.00) scale(0.9572,1)" font-size="11.10" fill="#000">Sennette - Ronquières</text>
<text transform="translate(174.60,222.00) scale(0.9495,1)" font-size="11.10" fill="#000">Sennette - Ecaussinnes</text>
<text transform="translate(174.60,248.00) scale(0.8290,1)" font-size="11.10" fill="#000">SENNE</text>
<text transform="translate(255.10,248.00) scale(0.8900,1)" font-size="11.10" fill="#000">- TUBIZE</text>
<text transform="translate(174.60,274.00) scale(0.9552,1)" font-size="11.10" fill="#000">Senne - Steenkerque</text>
<text transform="translate(174.60,300.00) scale(0.9552,1)" font-size="11.10" fill="#000">Senne - Steenkerque</text>
<text transform="translate(174.60,326.00) scale(0.8752,1)" font-size="11.10" fill="#000">CANAL BXL-CHARLEROI  - OISQUERCQ</text>
<text transform="translate(181.40,52.90) scale(1.1026,1)" font-size="20.40" fill="#000">Niveaux des cours d'eau qui passent à Tubize</text>
<g transform="translate(88.4,349.6) rotate(-90)"><text transform="translate(0.00,0.00) scale(1.0682,1)" font-size="17.60" fill="#000">Hauteur cm</text></g>
<text transform="translate(79.00,558.00) scale(0.9211,1)" font-size="17.60" fill="#000">12-22</text>
<text transform="translate(285.90,558.00) scale(0.9322,1)" font-size="17.60" fill="#000">12-23</text>
<text transform="translate(492.60,558.00) scale(0.9255,1)" font-size="17.60" fill="#000">12-24</text>
<text transform="translate(698.80,558.00) scale(0.9233,1)" font-size="17.60" fill="#000">12-25</text>
<text transform="translate(133.03,553.90) scale(0.9174,1)" font-size="10.90" fill="#000">04h</text>
<text transform="translate(174.37,553.90) scale(0.9174,1)" font-size="10.90" fill="#000">09h</text>
<text transform="translate(215.70,553.90) scale(0.9174,1)" font-size="10.90" fill="#000">14h</text>
<text transform="translate(257.03,553.90) scale(0.9174,1)" font-size="10.90" fill="#000">19h</text>
<text transform="translate(339.70,553.90) scale(0.9174,1)" font-size="10.90" fill="#000">04h</text>
<text transform="translate(381.03,553.90) scale(0.9174,1)" font-size="10.90" fill="#000">09h</text>
<text transform="translate(422.37,553.90) scale(0.9174,1)" font-size="10.90" fill="#000">14h</text>
<text transform="translate(463.70,553.90) scale(0.9174,1)" font-size="10.90" fill="#000">19h</text>
<text transform="translate(546.37,553.90) scale(0.9174,1)" font-size="10.90" fill="#000">04h</text>
<text transform="translate(587.70,553.90) scale(0.9174,1)" font-size="10.90" fill="#000">09h</text>
<text transform="translate(629.03,553.90) scale(0.9174,1)" font-size="10.90" fill="#000">14h</text>
<text transform="translate(670.37,553.90) scale(0.9174,1)" font-size="10.90" fill="#000">19h</text>
<text transform="translate(726.70,64.70) scale(0.9969,1)" font-size="17.60" fill="#000">200</text>
<text transform="translate(727.50,184.70) scale(0.9697,1)" font-size="17.60" fill="#000">150</text>
<text transform="translate(727.50,304.70) scale(0.9697,1)" font-size="17.60" fill="#000">100</text>
<text transform="translate(726.90,424.70) scale(0.9572,1)" font-size="17.60" fill="#000">50</text>
<text transform="translate(727.50,544.70) scale(0.8292,1)" font-size="17.60" fill="#000">0</text>
<text transform="translate(100.25,569.80) scale(0.9830,1)" font-size="11.20" fill="#000">dernière lecture : 2016-12-22T12:11:09</text>
<text transform="translate(100.25,578.80) scale(0.9615,1)" font-size="11.20" fill="#000">dernière donnée</text>
<text transform="translate(186.00,578.80) scale(0.9676,1)" font-size="11.20" fill="#000">2016-12-24T23:00:00</text>
<text transform="translate(560.80,570.00) scale(0.9637,1)" font-size="11.20" fill="#000">© DroitDeRegard.be</text>
<g>
<rect x="666" y="561" width="67" height="23" fill="#3a3c3a"/>
<rect x="666.8" y="561.8" width="65.4" height="16" fill="#abb1aa"/>
<rect x="666" y="577.3" width="67" height="6.7" fill="#000"/>
<circle cx="677.5" cy="571.7" r="9.1" fill="#abb1aa"/>
<circle cx="677.5" cy="571.7" r="7.2" fill="#fff" stroke="#000" stroke-width="1.4"/>
<text x="677.5" y="575.0" font-size="10.5" font-weight="bold" text-anchor="middle" fill="#000" textLength="10.4" lengthAdjust="spacingAndGlyphs">cc</text>
<circle cx="694.90" cy="569" r="5.55" fill="#fff" stroke="#000" stroke-width="1.1"/>
<circle cx="709.45" cy="569" r="5.55" fill="#fff" stroke="#000" stroke-width="1.1"/>
<circle cx="724.00" cy="569" r="5.55" fill="#fff" stroke="#000" stroke-width="1.1"/>
<circle cx="694.9" cy="565.9" r="0.95" fill="#000"/><rect x="693.05" y="567.1" width="3.7" height="3.5" rx="0.4" fill="#000"/><rect x="693.8" y="570" width="2.2" height="2.9" fill="#000"/>
<circle cx="709.45" cy="569" r="2.5" fill="none" stroke="#000" stroke-width="1"/><path d="M706.4 568.3h6.1M706.4 569.9h6.1" stroke="#000" stroke-width="0.8" fill="none"/><path d="M704.6 566.2L714.3 571.8" stroke="#fff" stroke-width="2.2" fill="none"/><path d="M704.6 566.2L714.3 571.8" stroke="#000" stroke-width="0.9" fill="none"/>
<circle cx="724" cy="569" r="2.7" fill="none" stroke="#000" stroke-width="1.3"/><rect x="719.9" y="567.4" width="2.6" height="1.7" fill="#fff"/><path d="M719.7 568.3h3.2l-1.6 1.9z" fill="#000"/>
<text x="694.4" y="582.6" font-size="5.4" font-weight="bold" text-anchor="middle" fill="#fff">BY</text>
<text x="709.1" y="582.6" font-size="5.4" font-weight="bold" text-anchor="middle" fill="#fff">NC</text>
<text x="723.5" y="582.6" font-size="5.4" font-weight="bold" text-anchor="middle" fill="#fff">SA</text>
</g>
</svg></body></html>
